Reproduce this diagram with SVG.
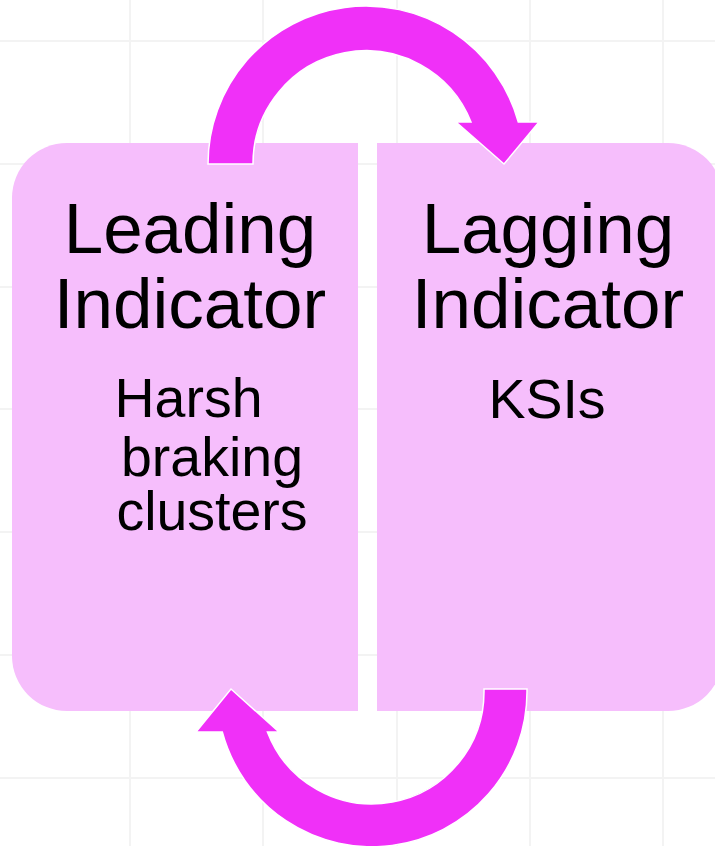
<svg xmlns="http://www.w3.org/2000/svg" width="715" height="846" viewBox="0 0 715 846">
  <style>
    .grid line { stroke: #f3f3f3; stroke-width: 2; }
    .box { fill: #f6befc; }
    .title { font-family: "Liberation Sans", Arial, sans-serif; font-size: 71px; fill: #000; text-anchor: middle; }
    .sub { font-family: "Liberation Sans", Arial, sans-serif; font-size: 55.5px; fill: #000; text-anchor: middle; }
    .arrow { fill: #f030f8; stroke: #ffffff; stroke-width: 1.5; stroke-linejoin: miter; }
  </style>
  <rect x="0" y="0" width="715" height="846" fill="#ffffff"/>
  <g class="grid">
    <line x1="130" y1="0" x2="130" y2="846"/>
    <line x1="263" y1="0" x2="263" y2="846"/>
    <line x1="397" y1="0" x2="397" y2="846"/>
    <line x1="530" y1="0" x2="530" y2="846"/>
    <line x1="663" y1="0" x2="663" y2="846"/>
    <line x1="0" y1="41" x2="715" y2="41"/>
    <line x1="0" y1="164" x2="715" y2="164"/>
    <line x1="0" y1="287" x2="715" y2="287"/>
    <line x1="0" y1="409" x2="715" y2="409"/>
    <line x1="0" y1="532" x2="715" y2="532"/>
    <line x1="0" y1="655" x2="715" y2="655"/>
    <line x1="0" y1="778" x2="715" y2="778"/>
  </g>
  <g id="leading">
    <path class="box" d="M67,143 H358 V711 H67 A55,55 0 0 1 12,656 V198 A55,55 0 0 1 67,143 Z"/>
    <text class="title" x="190" y="253">Leading</text>
    <text class="title" x="190" y="328">Indicator</text>
    <text class="sub" x="188.5" y="417">Harsh</text>
    <text class="sub" x="212" y="476">braking</text>
    <text class="sub" x="212" y="530">clusters</text>
  </g>
  <g id="lagging">
    <path class="box" d="M377,143 H668 A55,55 0 0 1 723,198 V656 A55,55 0 0 1 668,711 H377 Z"/>
    <text class="title" x="548" y="253">Lagging</text>
    <text class="title" x="548" y="328">Indicator</text>
    <text class="sub" x="547" y="418">KSIs</text>
  </g>
  <g id="connectors">
    <path class="arrow" d="M208,164 A158,158 0 0 1 518.3,122 H539 L504,164 L456,122 H471 A113,113 0 0 0 253,164 Z"/>
    <path class="arrow" d="M527,689 V692 A155,155 0 0 1 222.3,732 H196 L231,689 L279,732 H267.4 A112,112 0 0 0 484,692 V689 Z"/>
  </g>
</svg>
